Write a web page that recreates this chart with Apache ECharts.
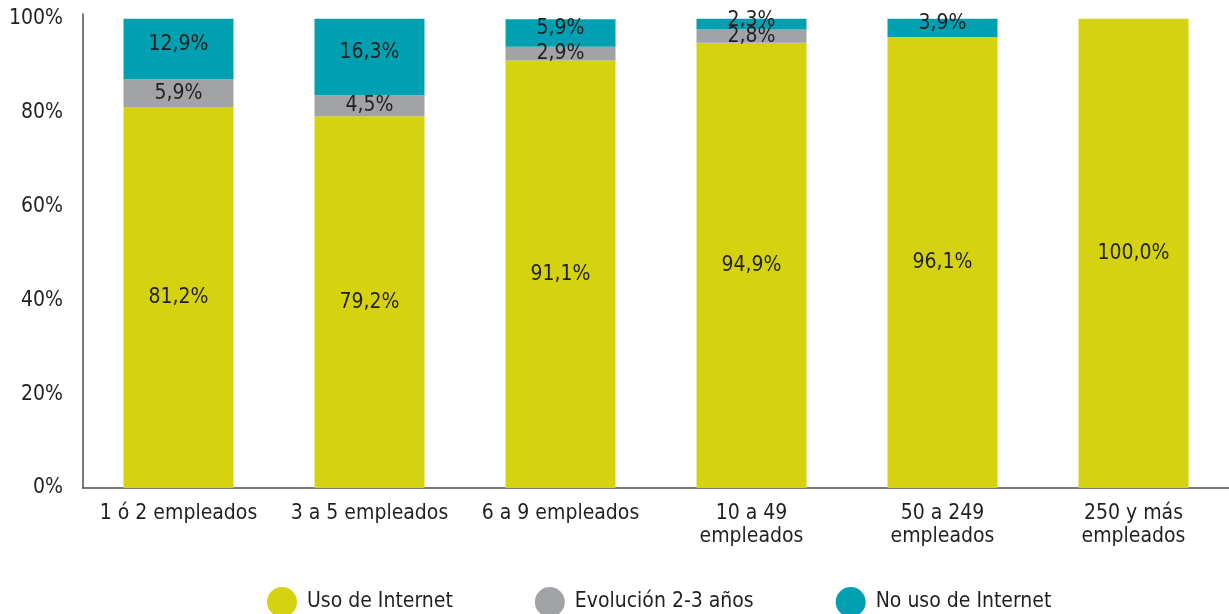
<!DOCTYPE html>
<html>
<head>
<meta charset="utf-8">
<script src="https://cdn.jsdelivr.net/npm/echarts@6/dist/echarts.min.js"></script>
<style>
    html,body{margin:0;padding:0;background:#fff;}
    #chart{width:1229px;height:614px;}
</style>
</head>
<body>
<div id="chart"></div>
<script>
// categorias
let categories = ['1 ó 2 empleados', '3 a 5 empleados', '6 a 9 empleados', '10 a 49\nempleados', '50 a 249\nempleados', '250 y más\nempleados']
// series
let uso_internet = [81.2, 79.2, 91.1, 94.9, 96.1, 100.0]
let evolucion = [5.9, 4.5, 2.9, 2.8, 0, 0]
let no_uso = [12.9, 16.3, 5.9, 2.3, 3.9, 0]
let series_names = ['Uso de Internet', 'Evolución 2-3 años', 'No uso de Internet']
let y_ticks = [0, 20, 40, 60, 80, 100]

let font = '"DejaVu Sans Condensed", "Liberation Sans Narrow", sans-serif'
let text_color = '#231f20'

// etiqueta con coma decimal
function fmt(p){
    if(!p.value) return ''
    return p.value.toFixed(1).replace('.', ',') + '%'
}

function make_series(name, data, color, offset){
    return {
        name: name,
        type: 'bar',
        stack: 'total',
        barWidth: 110,
        data: data,
        itemStyle: {color: color},
        label: {
            show: true,
            position: 'inside',
            offset: offset,
            formatter: fmt,
            color: text_color,
            fontFamily: font,
            fontSize: 21
        }
    }
}

let mychart = echarts.init(document.getElementById('chart'))
mychart.setOption({
    animation: false,
    textStyle: {fontFamily: font},
    grid: {
        left: 83,
        right: 0,
        top: 14,
        bottom: 126
    },
    legend: {
        left: 262,
        top: 582,
        icon: 'circle',
        itemWidth: 30,
        itemHeight: 30,
        itemGap: 82,
        textStyle: {
            color: text_color,
            fontFamily: font,
            fontSize: 21,
            padding: [0, 0, 0, 5]
        },
        data: series_names
    },
    xAxis: {
        type: 'category',
        data: categories,
        axisLine: {lineStyle: {color: '#4d4d4d', width: 1.5}},
        axisTick: {show: false},
        axisLabel: {
            color: text_color,
            fontFamily: font,
            fontSize: 21,
            lineHeight: 23,
            margin: 14,
            interval: 0
        }
    },
    yAxis: {
        type: 'value',
        min: 0,
        max: 101,
        interval: 20,
        splitLine: {show: false},
        axisTick: {show: false},
        axisLine: {show: true, lineStyle: {color: '#4d4d4d', width: 1.5}},
        axisLabel: {
            color: text_color,
            fontFamily: font,
            fontSize: 21,
            margin: 20,
            formatter: function(v){
                return y_ticks.indexOf(v) >= 0 ? v + '%' : ''
            }
        }
    },
    series: [
        make_series(series_names[0], uso_internet, '#d5d30f', [0, 0]),
        make_series(series_names[1], evolucion, '#a2a3a6', [0, 0]),
        make_series(series_names[2], no_uso, '#00a0b0', [0, -4])
    ]
})
</script>
</body>
</html>
